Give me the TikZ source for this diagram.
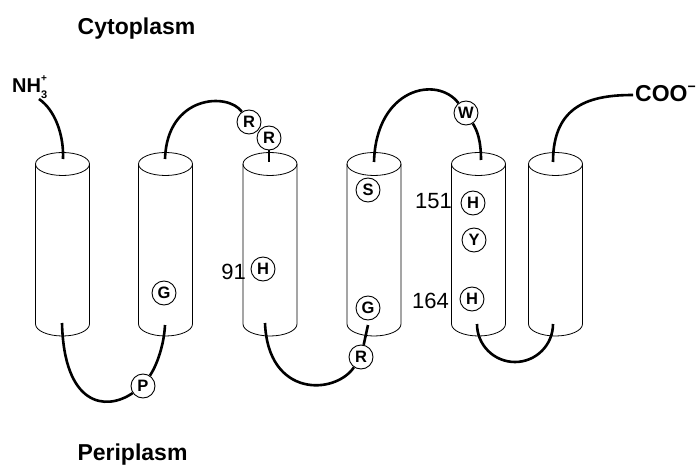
\documentclass[tikz,border=0pt]{standalone}
\usepackage{fontspec}
\setmainfont{Liberation Sans}
\begin{document}
\begin{tikzpicture}[x=1pt,y=-1pt,
  loopline/.style={line width=2.6pt},
  cyl/.style={line width=0.8pt},
  res/.style={circle,draw,line width=0.9pt,minimum size=24pt,inner sep=0pt,fill=white,font=\fontsize{16.5}{16.5}\selectfont\bfseries},
  num/.style={inner sep=0pt,font=\fontsize{22}{22}\selectfont},
  big/.style={inner sep=0pt,font=\fontsize{23}{23}\selectfont\bfseries}]
\fill[white] (0,0) rectangle (699,468);
\useasboundingbox (0,0) rectangle (699,468);
% cylinders
\foreach \cx in {62.5,165.5,270,374,478.5,555.5} {
  \draw[cyl] (\cx-27,164) -- (\cx-27,324) arc[start angle=180,end angle=360,x radius=27pt,y radius=12pt] -- (\cx+27,164);
  \draw[cyl] (\cx,164) ellipse[x radius=27pt,y radius=11.5pt];
}
% attachment points
\coordinate (t1) at (63,159);
\coordinate (t2) at (165,159);
\coordinate (t3) at (269,162);
\coordinate (t4) at (374,162);
\coordinate (t5) at (481,160);
\coordinate (t6) at (553,162);
\coordinate (b1) at (62,323);
\coordinate (b2) at (165,325);
\coordinate (b3) at (265,323);
\coordinate (b4) at (368,325);
\coordinate (b5) at (477,324);
\coordinate (nhs) at (39,99);
\coordinate (coos) at (633,95);
% residues
\node[res] (G2) at (164,293) {G};
\node[res] (R1) at (249,122) {R};
\node[res] (R2) at (269,138) {R};
\node[res] (H91) at (263,269) {H};
\node[res] (S4) at (368,190) {S};
\node[res] (G4) at (368,308) {G};
\node[res] (W) at (466,113) {W};
\node[res] (H151) at (473,203) {H};
\node[res] (Y) at (474,240) {Y};
\node[res] (H164) at (472,299) {H};
\node[res] (P) at (143,386) {P};
\node[res] (R3) at (361,357) {R};
% numbers
\node[num,anchor=base east] (n91) at (246,279) {91};
\node[num,anchor=base east] (n151) at (452,208) {151};
\node[num,anchor=base east] (n164) at (449,308) {164};
% loops
\draw[loopline] (nhs) .. controls (55,110) and (64,135) .. (t1);
\draw[loopline] (t2) .. controls (167,95) and (228,92) .. (R1);
\draw[loopline] (R2) -- (t3);
\draw[loopline] (t4) .. controls (376,88) and (437,75) .. (W);
\draw[loopline] (W) .. controls (477,130) and (481,140) .. (t5);
\draw[loopline] (t6) .. controls (553,105) and (590,95) .. (coos);
\draw[loopline] (b1) .. controls (64,405) and (105,412) .. (P);
\draw[loopline] (P) .. controls (157,365) and (164,345) .. (b2);
\draw[loopline] (b3) .. controls (268,398) and (335,395) .. (R3);
\draw[loopline] (R3) -- (b4);
\draw[loopline] (b5) arc[start angle=180,end angle=360,radius=38pt];
% texts
\node[big,anchor=base] (cyto) at (136.5,35) {Cytoplasm};
\node[big,anchor=base] (peri) at (132.5,460) {Periplasm};
\node[anchor=base west,inner sep=0pt,font=\fontsize{20}{20}\selectfont\bfseries] (nh) at (12,93) {NH\rlap{\raisebox{0.55em}{\fontsize{10}{10}\selectfont +}}\raisebox{-0.3em}{\fontsize{11}{11}\selectfont 3}};
\node[anchor=base west,inner sep=0pt,font=\fontsize{23}{23}\selectfont\bfseries] (coo) at (635,102) {COO\raisebox{0.45em}{\fontsize{14}{14}\selectfont −}};
\end{tikzpicture}
\end{document}
